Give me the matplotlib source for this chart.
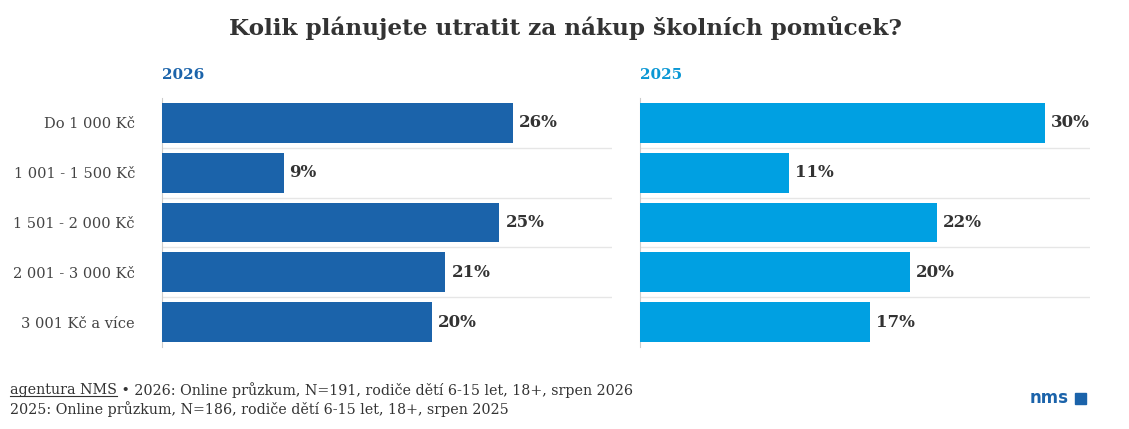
import matplotlib
matplotlib.use('Agg')
import matplotlib.pyplot as plt
from matplotlib.patches import Rectangle
from matplotlib.lines import Line2D

categories = ['Do 1 000 Kč', '1 001 - 1 500 Kč', '1 501 - 2 000 Kč', '2 001 - 3 000 Kč', '3 001 Kč a více']
values_2026 = [26, 9, 25, 21, 20]
values_2025 = [30, 11, 22, 20, 17]
years = ['2026', '2025']
colors = ['#1b63aa', '#00a0e2']
label_colors = ['#1b63aa', '#0a97d4']

W, H = 1129, 429
fig = plt.figure(figsize=(W / 100, H / 100), dpi=100)
plt.rcParams['font.family'] = ['DejaVu Serif']
serif = 'DejaVu Serif'

def px_axes(x0, y0, x1, y1):
    return fig.add_axes([x0 / W, 1 - y1 / H, (x1 - x0) / W, (y1 - y0) / H])

xmax = 450 / 13.5
panels = [(162, 612), (640, 1090)]
for i, (vals, (x0, x1)) in enumerate(zip([values_2026, values_2025], panels)):
    ax = px_axes(x0, 98, x1, 347)
    ypos = list(range(len(categories)))
    ax.barh(ypos, vals, height=0.8, color=colors[i], zorder=3)
    ax.set_xlim(0, xmax)
    ax.set_ylim(len(categories) - 0.5, -0.5)
    for k in range(len(categories) - 1):
        ax.axhline(k + 0.5, color='#e6e6e6', linewidth=1, zorder=1)
    for k, v in enumerate(vals):
        ax.text(v + 0.45, k, f'{v}%', va='center', ha='left', fontsize=12,
                fontweight='bold', color='#333333', family=serif)
    for s in ['top', 'right', 'bottom']:
        ax.spines[s].set_visible(False)
    ax.spines['left'].set_color('#cccccc')
    ax.set_xticks([])
    if i == 0:
        ax.set_yticks(ypos)
        ax.set_yticklabels(categories, fontsize=10.5, color='#444444', family=serif)
        ax.tick_params(axis='y', length=0, pad=19.5)
    else:
        ax.set_yticks([])
    fig.text(x0 / W, 1 - 75 / H, years[i], fontsize=11, fontweight='bold',
             color=label_colors[i], va='center', ha='left', family=serif)

fig.text(565 / W, 1 - 28 / H, 'Kolik plánujete utratit za nákup školních pomůcek?',
         fontsize=16.7, fontweight='bold', color='#333333', ha='center', va='center', family=serif)

src = fig.text(10 / W, 1 - 390 / H, 'agentura NMS', fontsize=10.3, color='#333333',
               va='center', ha='left', family=serif)
fig.canvas.draw()
bb = src.get_window_extent(fig.canvas.get_renderer())
fig.add_artist(Line2D([bb.x0 / W, bb.x1 / W], [(bb.y0 + 1) / H, (bb.y0 + 1) / H],
                      color='#333333', linewidth=0.8))
fig.text(bb.x1 / W, 1 - 390 / H, ' • 2026: Online průzkum, N=191, rodiče dětí 6-15 let, 18+, srpen 2026',
         fontsize=10.3, color='#333333', va='center', ha='left', family=serif)
fig.text(10 / W, 1 - 409 / H, '2025: Online průzkum, N=186, rodiče dětí 6-15 let, 18+, srpen 2025',
         fontsize=10.3, color='#333333', va='center', ha='left', family=serif)

fig.text(1069 / W, 1 - 398 / H, 'nms', fontsize=12, fontweight='bold', color='#1b63aa',
         ha='right', va='center', family='DejaVu Sans')
fig.add_artist(Rectangle((1075 / W, 1 - 404 / H), 11 / W, 11 / H, color='#1b63aa',
                         transform=fig.transFigure))

fig.savefig('out.png', dpi=100)
